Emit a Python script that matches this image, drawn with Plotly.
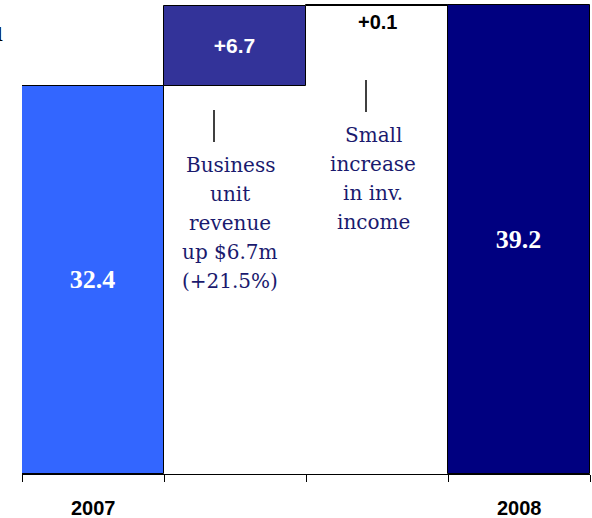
import plotly.graph_objects as go

# Bridge of revenue, $m: 2007 total -> changes -> 2008 total
steps = ["2007", "Business unit", "Inv. income", "2008"]
values = [32.4, 6.7, 0.1, 39.2]
kinds = ["total", "delta", "delta", "total"]
tick_labels = ["2007", "", "", "2008"]
colors = ["#3366FF", "#333399", "#FFFFFF", "#000080"]

notes = {
    1: ["Business", "unit", "revenue", "up $6.7m", "(+21.5%)"],
    2: ["Small", "increase", "in inv.", "income"],
}

# Bar bases: totals start at zero, deltas float on the running sum
bases, labels = [], []
running = 0.0
for v, k in zip(values, kinds):
    if k == "total":
        bases.append(0.0)
        running = v
        labels.append(f"{v:.1f}")
    else:
        bases.append(running)
        running += v
        labels.append(f"+{v:.1f}")

x = list(range(len(steps)))
serif = "Liberation Serif"
note_font = "DejaVu Serif"
sans = "Liberation Sans"

fig = go.Figure()
fig.add_trace(go.Bar(
    x=x, y=values, base=bases, width=1.0,
    marker=dict(color=colors, line=dict(color="#000000", width=1)),
    text=labels,
    textposition=["inside", "inside", "none", "inside"],
    insidetextanchor="middle",
    textangle=0,
    constraintext="none",
    textfont=dict(
        family=[serif, sans, sans, serif],
        size=[26, 21, 20, 26],
        color=["#FFFFFF", "#FFFFFF", "#000000", "#FFFFFF"],
        weight="bold",
    ),
    hoverinfo="skip",
    showlegend=False,
))

Y_MAX = 39.63
PX = 474 / Y_MAX  # pixels per unit of the plot height

def yv(px_from_top):
    return (474 - px_from_top) / PX

# Thin +0.1 bar: label sits just beneath it
fig.add_annotation(x=2, y=bases[2] + values[2], yref="y", text=labels[2],
                   showarrow=False, yanchor="top", yshift=-4,
                   font=dict(family=sans, size=20, color="#000000", weight="bold"))

# Year labels under the axis
for i, t in enumerate(tick_labels):
    if t:
        fig.add_annotation(x=i, y=0, text=t, showarrow=False, yanchor="middle",
                           yshift=-34,
                           font=dict(family=sans, size=20, color="#000000",
                                     weight="bold"))

# Explanatory notes with leader lines
note_layout = {1: (-0.035, 214, 110, 142, 165), 2: (-0.028, 366, 80, 112, 135)}
for idx, lines in notes.items():
    dx, lx, ly0, ly1, ty = note_layout[idx]
    lx_data = -0.5 + (lx - 22) / 142
    fig.add_shape(type="line", x0=lx_data, x1=lx_data, y0=yv(ly0), y1=yv(ly1),
                  line=dict(color="#000000", width=1.5))
    for j, line in enumerate(lines):
        fig.add_annotation(x=idx + dx, y=yv(ty + 29 * j), text=line,
                           showarrow=False, yanchor="middle",
                           font=dict(family=note_font, size=20, color="#1A1A6E"))

# Clipped title fragment at the top-left edge
fig.add_annotation(xref="paper", yref="paper", x=(5 - 22) / 568, y=1 - 31 / 474,
                   text="u", showarrow=False, xanchor="right", yanchor="middle",
                   font=dict(family=serif, size=30, color="#000000"))

fig.update_layout(
    width=592, height=518,
    margin=dict(l=22, r=2, t=0, b=44),
    paper_bgcolor="#FFFFFF", plot_bgcolor="#FFFFFF",
    bargap=0,
    xaxis=dict(range=[-0.5, 3.5], tickmode="array",
               tickvals=[-0.5, 0.5, 1.5, 2.5, 3.5],
               ticktext=["", "", "", "", ""],
               ticks="outside", ticklen=7, tickcolor="#000000", tickwidth=1,
               showline=True, linecolor="#000000", linewidth=1,
               showgrid=False, zeroline=False, fixedrange=True),
    yaxis=dict(range=[0, Y_MAX], visible=False, showgrid=False, zeroline=False),
)

fig.write_html("out.html")
